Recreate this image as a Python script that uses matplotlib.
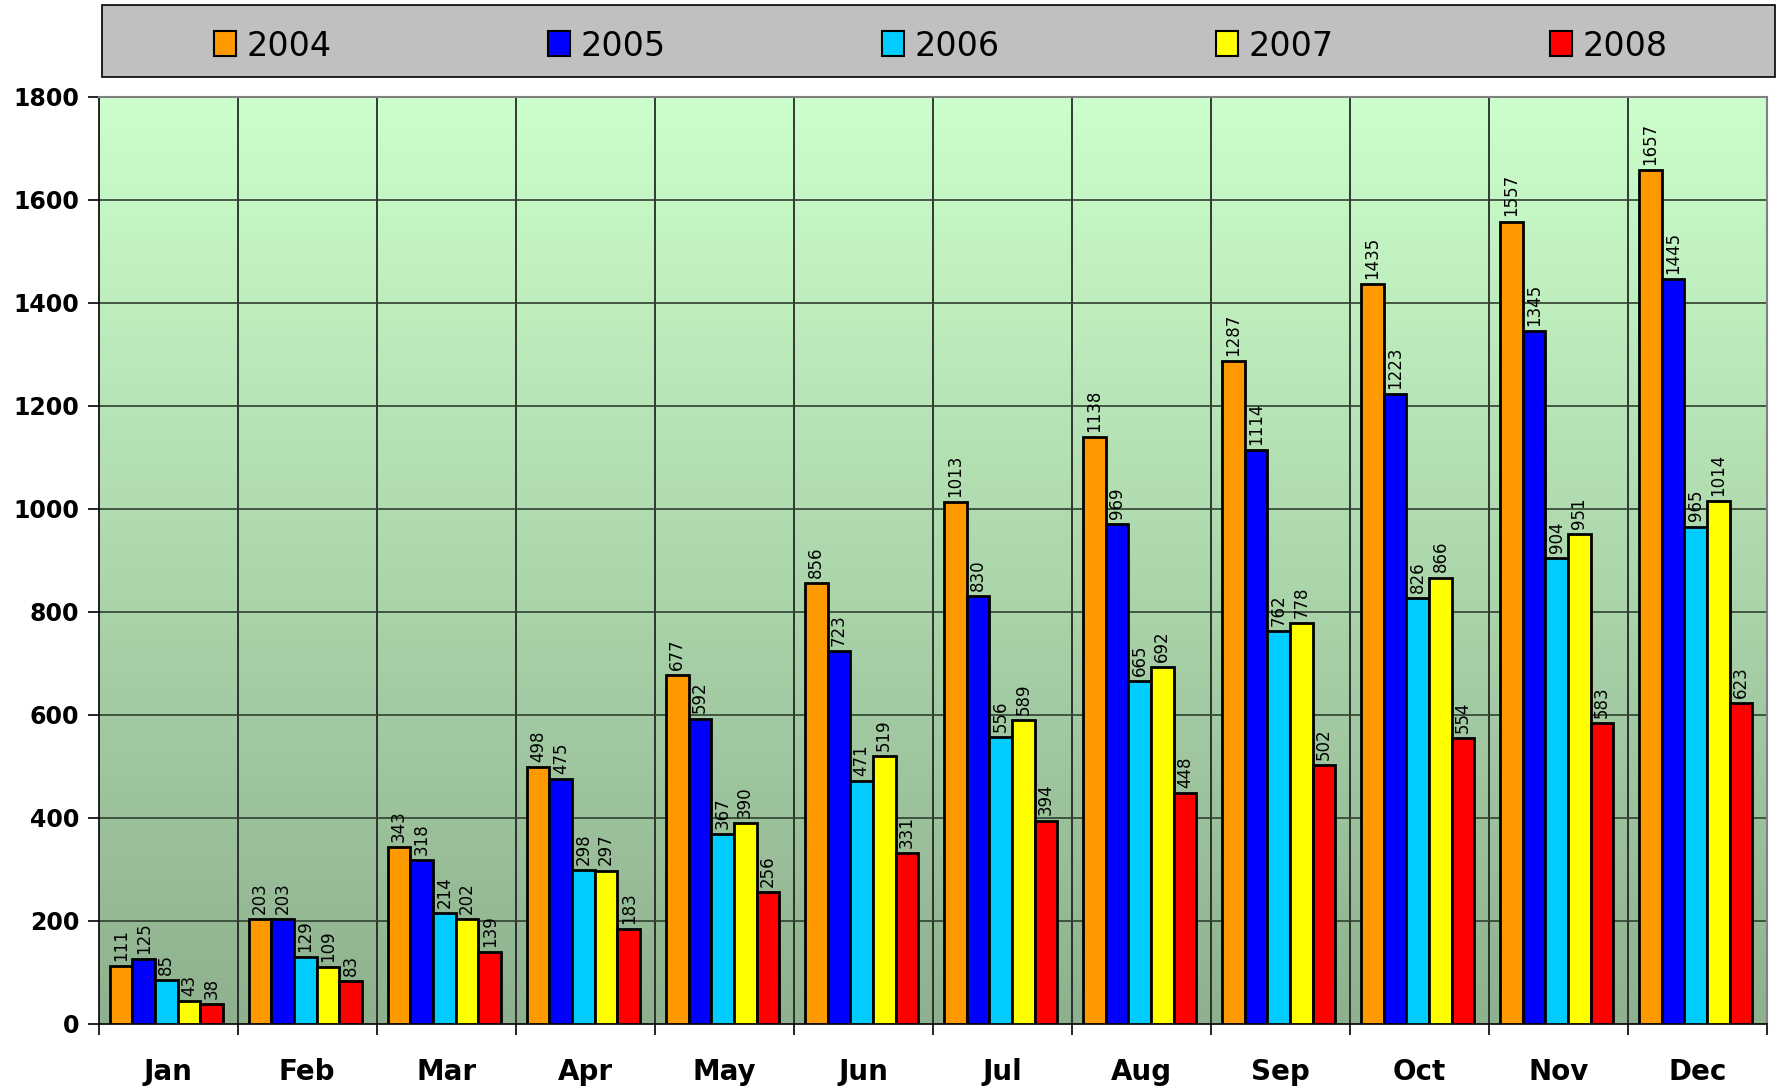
import matplotlib
matplotlib.use("Agg")
import matplotlib.pyplot as plt
import numpy as np
from matplotlib.patches import Rectangle

months = ['Jan', 'Feb', 'Mar', 'Apr', 'May', 'Jun',
          'Jul', 'Aug', 'Sep', 'Oct', 'Nov', 'Dec']
years = ['2004', '2005', '2006', '2007', '2008']
v2004 = [111, 203, 343, 498, 677, 856, 1013, 1138, 1287, 1435, 1557, 1657]
v2005 = [125, 203, 318, 475, 592, 723, 830, 969, 1114, 1223, 1345, 1445]
v2006 = [85, 129, 214, 298, 367, 471, 556, 665, 762, 826, 904, 965]
v2007 = [43, 109, 202, 297, 390, 519, 589, 692, 778, 866, 951, 1014]
v2008 = [38, 83, 139, 183, 256, 331, 394, 448, 502, 554, 583, 623]
series = [v2004, v2005, v2006, v2007, v2008]
colors = ['#FF9900', '#0000FF', '#00CCFF', '#FFFF00', '#FF0000']

W, H = 1776, 1086
fig = plt.figure(figsize=(W / 100, H / 100), dpi=100)
ax = fig.add_axes([98.5 / W, 1 - 1023.5 / H, (1767 - 98.5) / W, (1023.5 - 96.5) / H])

# background gradient
grad = np.linspace(0, 1, 256).reshape(-1, 1)
top = np.array([204, 255, 204]) / 255
bot = np.array([142, 176, 142]) / 255
img = bot + (top - bot) * grad[:, :, None]
ax.imshow(img, extent=[-0.5, 11.5, 0, 1800], origin='lower', aspect='auto', zorder=0)

x = np.arange(len(months))
bw = 0.163
for i, (vals, c) in enumerate(zip(series, colors)):
    pos = x + (i - 2) * bw - 0.012
    ax.bar(pos, vals, bw, color=c, edgecolor='black', linewidth=2.0, zorder=3)
    for p, v in zip(pos, vals):
        ax.text(p, v + 10, str(v), rotation=90, ha='center', va='bottom',
                fontsize=12, zorder=4)

ax.set_xlim(-0.5, 11.5)
ax.set_ylim(0, 1800)
ax.set_yticks(range(0, 1801, 200))
ax.set_yticklabels([str(t) for t in range(0, 1801, 200)], fontsize=17, fontweight='bold')
ax.set_xticks(x)
ax.set_xticklabels(months, fontsize=20, fontweight='bold')
ax.tick_params(axis='x', length=0, pad=25)
ax.set_xticks(np.arange(-0.5, 12, 1), minor=True)
ax.tick_params(axis='x', which='minor', length=8, width=1.2, direction='out')
ax.tick_params(axis='y', length=8, width=1.2, pad=6)

for b in np.arange(0.5, 11.5, 1):
    ax.axvline(b, color='#1a1a1a', linewidth=1.2, zorder=1)
for t in range(200, 1800, 200):
    ax.axhline(t, color='#2f402f', linewidth=1.2, zorder=1)

for s in ['top', 'right']:
    ax.spines[s].set_color('#808080')
    ax.spines[s].set_linewidth(1.5)
for s in ['left', 'bottom']:
    ax.spines[s].set_color('black')
    ax.spines[s].set_linewidth(1.2)

# legend box
fig.patches.append(Rectangle((102 / W, 1 - 77 / H), (1775 - 102) / W, 72 / H,
                             transform=fig.transFigure, facecolor='#C0C0C0',
                             edgecolor='black', linewidth=1.2))
for i, (yr, c) in enumerate(zip(years, colors)):
    mx = 214 + i * 334
    fig.patches.append(Rectangle((mx / W, 1 - 56 / H), 22 / W, 25 / H,
                                 transform=fig.transFigure, facecolor=c,
                                 edgecolor='black', linewidth=1.5))
    fig.text((mx + 32) / W, 1 - 46 / H, yr, fontsize=24, va='center', ha='left')

fig.savefig('out.png', dpi=100)
